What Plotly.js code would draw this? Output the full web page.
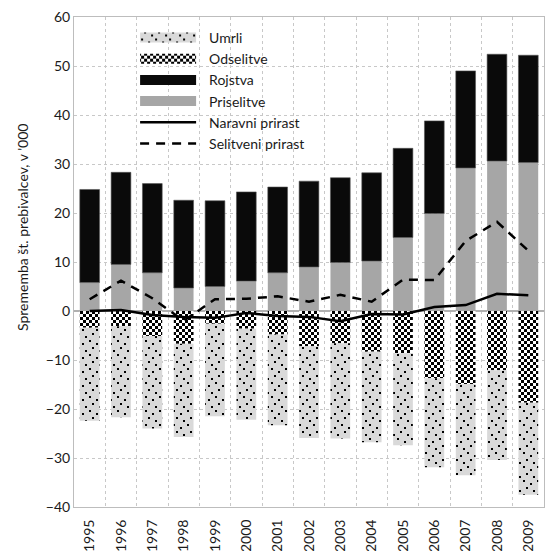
<!DOCTYPE html>
<html>
<head>
<meta charset="utf-8">
<script src="https://cdn.plot.ly/plotly-3.0.1.min.js"></script>
<style>html,body{margin:0;padding:0;background:#fff;}#chart{width:547px;height:551px;}</style>
</head>
<body>
<div id="chart"></div>
<script>
const years = ['1995','1996','1997','1998','1999','2000','2001','2002','2003','2004','2005','2006','2007','2008','2009'];
const priselitve = [5.8, 9.5, 7.8, 4.7, 5.0, 6.1, 7.8, 9.0, 9.9, 10.2, 15.0, 19.9, 29.2, 30.6, 30.3];
const rojstva = [19.0, 18.8, 18.2, 17.9, 17.5, 18.2, 17.5, 17.5, 17.3, 18.0, 18.2, 18.9, 19.8, 21.8, 21.9];
const odselitve = [-3.4, -3.1, -5.1, -6.7, -2.6, -3.6, -4.8, -7.2, -6.6, -8.3, -8.6, -13.7, -14.9, -12.1, -18.7];
const umrli = [-19.0, -18.6, -18.9, -19.0, -18.9, -18.6, -18.5, -18.7, -19.4, -18.5, -18.8, -18.2, -18.6, -18.3, -18.8];
const naravniPrirast = [0.0, 0.2, -0.8, -1.2, -1.4, -0.4, -1.0, -1.2, -2.1, -0.6, -0.7, 0.8, 1.2, 3.5, 3.2];
const selitveniPrirast = [2.4, 6.2, 2.6, -2.0, 2.4, 2.5, 3.0, 1.9, 3.3, 1.9, 6.4, 6.3, 14.3, 18.2, 12.3];

const font = 'Lato, "Liberation Sans", sans-serif';

const traces = [
  {type:'bar', name:'Priselitve', x:years, y:priselitve, legendrank:4,
   marker:{color:'#a6a6a6', line:{width:0}}},
  {type:'bar', name:'Rojstva', x:years, y:rojstva, legendrank:3,
   marker:{color:'#0a0a0a', line:{color:'#555', width:0.6}}},
  {type:'bar', name:'Odselitve', x:years, y:odselitve, legendrank:2,
   marker:{color:'#ffffff', line:{width:0},
     pattern:{shape:'x', fgcolor:'#000', bgcolor:'#ffffff', size:4, solidity:0.5, fillmode:'replace'}}},
  {type:'bar', name:'Umrli', x:years, y:umrli, legendrank:1,
   marker:{color:'#d9d9d9', line:{width:0},
     pattern:{shape:'.', fgcolor:'#000', bgcolor:'#d9d9d9', size:8, solidity:0.09, fillmode:'replace'}}},
  {type:'scatter', mode:'lines', name:'Naravni prirast', x:years, y:naravniPrirast, legendrank:5,
   line:{color:'#000', width:2.5}},
  {type:'scatter', mode:'lines', name:'Selitveni prirast', x:years, y:selitveniPrirast, legendrank:6,
   line:{color:'#000', width:2.5, dash:'9px,7px'}}
];

const layout = {
  width:547, height:551,
  margin:{l:74, r:3, t:17, b:44},
  paper_bgcolor:'#fff', plot_bgcolor:'#fff',
  font:{family:font, size:14, color:'#1a1a1a'},
  barmode:'relative', bargap:0.37,
  showlegend:true,
  legend:{x:0.13, y:0.99, xanchor:'left', yanchor:'top', bgcolor:'rgba(255,255,255,0)',
    font:{family:font, size:14, color:'#1a1a1a'}, itemwidth:56, tracegroupgap:0},
  xaxis:{type:'category', tickangle:-90, tickson:'boundaries', ticks:'', ticklen:0, ticklabelstandoff:6,
    showgrid:true, gridcolor:'#c8c8c8', griddash:'dot', gridwidth:1,
    showline:true, mirror:true, linecolor:'#bdbdbd', linewidth:1,
    tickfont:{family:font, size:14, color:'#1a1a1a'}},
  yaxis:{range:[-40,60], dtick:10, tick0:0, ticks:'',
    showgrid:true, gridcolor:'#c8c8c8', griddash:'dot', gridwidth:1,
    zeroline:true, zerolinecolor:'#b0b0b0', zerolinewidth:1.5,
    showline:true, mirror:true, linecolor:'#bdbdbd', linewidth:1,
    tickfont:{family:font, size:14, color:'#1a1a1a'}},
  annotations:[{text:"Sprememba št. prebivalcev, v '000", textangle:-90,
    xref:'paper', yref:'paper', x:-0.11, y:0.57, xanchor:'center', yanchor:'middle', showarrow:false,
    font:{family:font, size:14, color:'#1a1a1a'}}]
};

function addPatterns() {
  const NS = 'http://www.w3.org/2000/svg';
  const svg = document.querySelector('#chart svg.main-svg');
  const defs = document.createElementNS(NS, 'defs');
  svg.insertBefore(defs, svg.firstChild);
  const ck = document.createElementNS(NS, 'pattern');
  ck.setAttribute('id', 'ckPat'); ck.setAttribute('patternUnits', 'userSpaceOnUse');
  ck.setAttribute('width', '6'); ck.setAttribute('height', '6');
  ck.innerHTML = '<rect width="6" height="6" fill="#fff"/><rect x="0" y="0" width="3" height="3" fill="#000"/><rect x="3" y="3" width="3" height="3" fill="#000"/>';
  defs.appendChild(ck);
  const dt = document.createElementNS(NS, 'pattern');
  dt.setAttribute('id', 'dtPat'); dt.setAttribute('patternUnits', 'userSpaceOnUse');
  dt.setAttribute('width', '14'); dt.setAttribute('height', '14');
  dt.innerHTML = '<rect width="14" height="14" fill="#d9d9d9"/>' +
    '<rect x="1" y="1" width="2" height="2" fill="#000"/>' +
    '<rect x="8" y="4" width="2" height="2" fill="#000"/>' +
    '<rect x="4" y="8" width="2" height="2" fill="#000"/>' +
    '<rect x="11" y="11" width="2" height="2" fill="#000"/>';
  defs.appendChild(dt);

  const barTraces = document.querySelectorAll('#chart .barlayer .trace');
  if (barTraces.length >= 4) {
    barTraces[2].querySelectorAll('path').forEach(p => p.style.fill = 'url(#ckPat)');
    barTraces[3].querySelectorAll('path').forEach(p => p.style.fill = 'url(#dtPat)');
  }
  document.querySelectorAll('#chart .legend, #chart .legend *').forEach(el => {
    if (el.hasAttribute && el.hasAttribute('clip-path')) el.removeAttribute('clip-path');
  });
  const items = Array.from(document.querySelectorAll('#chart .legend .traces'));
  let lineL = null, lineR = null;
  items.forEach(it => {
    const lp = it.querySelector('.legendlines path');
    if (lp && lineL === null) {
      const r = lp.getBoundingClientRect();
      lineL = r.left; lineR = r.right;
    }
  });
  items.forEach(it => {
    const t = it.querySelector('.legendtext');
    if (t) t.setAttribute('x', (parseFloat(t.getAttribute('x')) || 0) + 8);
    const txt = t ? t.textContent : '';
    const bp = it.querySelector('.legendpoints path');
    if (!bp || lineL === null) return;
    if (['Umrli','Odselitve','Rojstva','Priselitve'].indexOf(txt) < 0) return;
    const r = bp.getBoundingClientRect();
    const cx = (r.left + r.right) / 2;
    const L = lineL - cx, R = lineR - cx;
    bp.setAttribute('d', 'M' + R + ',5H' + L + 'V-5H' + R + 'Z');
    bp.style.stroke = 'none';
    if (txt === 'Odselitve') bp.style.fill = 'url(#ckPat)';
    if (txt === 'Umrli') bp.style.fill = 'url(#dtPat)';
  });
}

Plotly.newPlot('chart', traces, layout, {displayModeBar:false, staticPlot:true}).then(addPatterns);
</script>
</body>
</html>
